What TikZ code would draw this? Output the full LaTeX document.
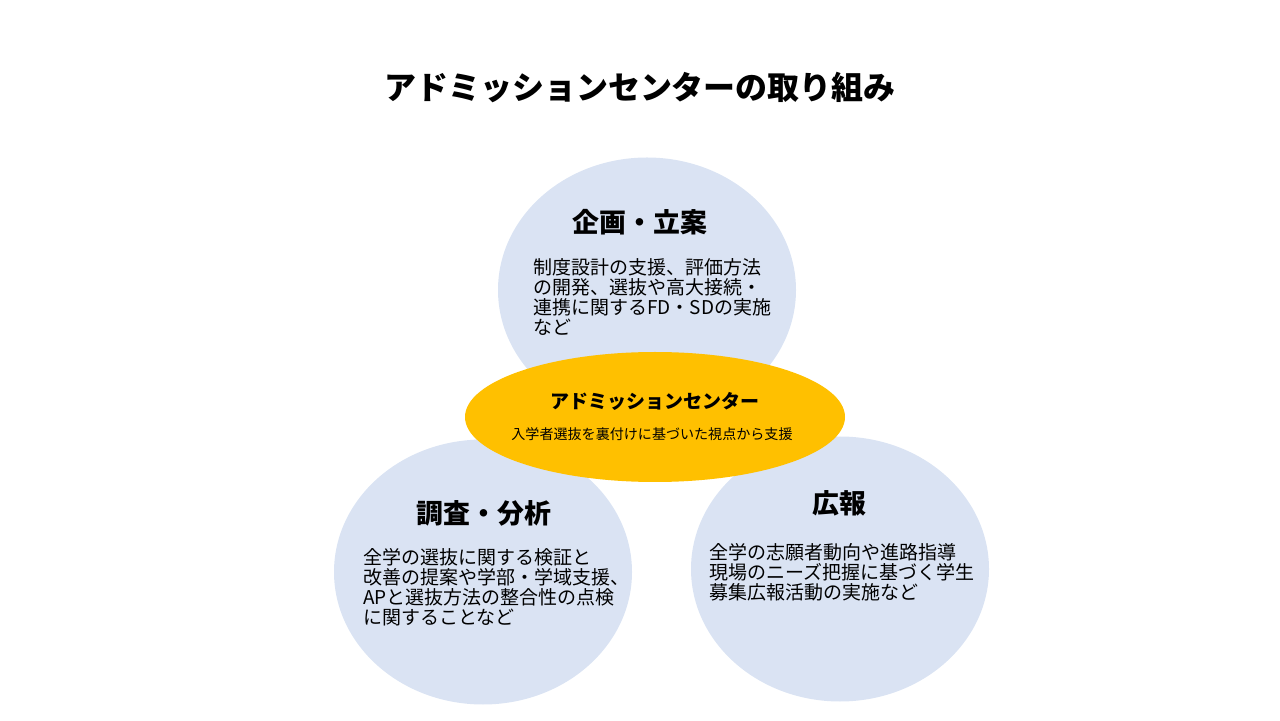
\documentclass[tikz,border=0pt]{standalone}
\usepackage{fontspec}
\setmainfont{Noto Sans CJK JP}
\definecolor{circlebg}{RGB}{218,227,243}
\definecolor{centre}{RGB}{255,192,0}
\usetikzlibrary{shapes.geometric}

\begin{document}
\begin{tikzpicture}[
  circ/.style={ellipse, fill=circlebg, inner sep=0pt, minimum width=5.96cm, minimum height=5.3cm},
  core/.style={ellipse, fill=centre, inner sep=0pt, minimum width=7.6cm, minimum height=2.6cm},
  head/.style={font=\fontsize{15.3}{18}\selectfont\bfseries, inner sep=0pt},
  body/.style={font=\fontsize{10.8}{11.4}\selectfont, align=left, anchor=north west, inner sep=0pt}
]
  \useasboundingbox (0,0) rectangle (25.6,14.4);
  \node[inner sep=0pt, font=\fontsize{18.2}{22}\selectfont\bfseries] (title) at (12.8,12.64) {アドミッションセンターの取り組み};

  % three fields
  \node[circ] (plan) at (12.94,8.6) {};
  \node[circ] (survey) at (9.66,2.96) {};
  \node[circ] (pr) at (16.8,3.02) {};

  \node[head] (planhead) at (12.8,9.96) {企画・立案};
  \node[body] (plantext) at (10.66,9.24) {制度設計の支援、評価方法\\の開発、選抜や高大接続・\\連携に関するFD・SDの実施\\など};

  \node[head] (surveyhead) at (9.68,4.14) {調査・分析};
  \node[body] (surveytext) at (7.26,3.44) {全学の選抜に関する検証と\\改善の提案や学部・学域支援、\\APと選抜方法の整合性の点検\\に関することなど};

  \node[head] (prhead) at (16.78,4.34) {広報};
  \node[body] (prtext) at (14.18,3.54) {全学の志願者動向や進路指導\\現場のニーズ把握に基づく学生\\募集広報活動の実施など};

  % centre
  \node[core] (center) at (13.1,6.06) {};
  \node[inner sep=0pt, font=\fontsize{10.8}{13}\selectfont\bfseries] (centername) at (13.1,6.38) {アドミッションセンター};
  \node[inner sep=0pt, font=\fontsize{8}{10}\selectfont] (centertext) at (13.04,5.72) {入学者選抜を裏付けに基づいた視点から支援};
\end{tikzpicture}
\end{document}
